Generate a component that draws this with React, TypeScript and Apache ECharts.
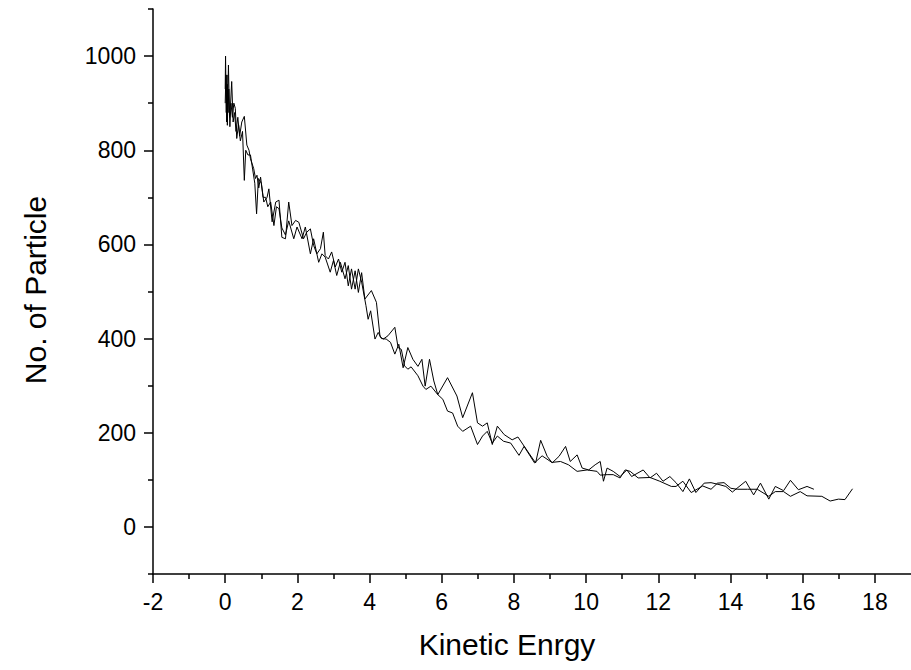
import React, { useEffect, useRef } from "react";
import * as echarts from "echarts";

// Run A (ends near 16.3)
const energyA = [
  0.0, 0.01, 0.03, 0.05, 0.06, 0.09, 0.12, 0.15, 0.18, 0.22, 0.26, 0.3, 0.35, 0.4, 0.46, 0.53, 0.6, 0.66, 0.7, 0.79,
  0.84, 0.88, 0.93, 0.98, 1.07, 1.16, 1.21, 1.3, 1.4, 1.49, 1.57, 1.67, 1.76, 1.85, 1.95, 2.04, 2.17, 2.26, 2.36, 2.45,
  2.54, 2.64, 2.72, 2.77, 2.86, 2.95, 3.05, 3.14, 3.23, 3.32, 3.41, 3.5, 3.6, 3.69, 3.78, 3.9, 3.96, 4.03, 4.15, 4.24,
  4.33, 4.46, 4.58, 4.7, 4.81, 4.93, 5.06, 5.2, 5.34, 5.45, 5.54, 5.66, 5.78, 5.89, 6.16, 6.42, 6.58, 6.85, 6.99, 7.13,
  7.26, 7.4, 7.54, 7.73, 7.95, 8.11, 8.41, 8.6, 8.74, 8.92, 9.06, 9.25, 9.43, 9.56, 9.75, 9.89, 10.07, 10.25, 10.39, 10.48,
  10.58, 10.75, 10.94, 11.13, 11.26, 11.58, 11.77, 11.95, 12.13, 12.32, 12.49, 12.68, 12.86, 13.04, 13.27, 13.46, 13.68, 13.87, 14.05, 14.42,
  14.64, 14.83, 15.06, 15.24, 15.47, 15.66, 15.88, 16.12, 16.31,
];
const countA = [
  930, 1000, 880, 960, 853, 981, 870, 900, 946, 860, 880, 840, 870, 830, 860, 872, 811, 800, 782, 761,
  740, 747, 720, 743, 690, 700, 718, 648, 690, 694, 615, 612, 690, 640, 651, 647, 612, 626, 633, 598,
  580, 591, 626, 576, 569, 584, 552, 569, 541, 562, 512, 548, 505, 548, 520, 470, 441, 459, 399, 413,
  400, 399, 392, 367, 388, 338, 381, 356, 341, 356, 299, 356, 310, 281, 317, 278, 232, 285, 221, 214,
  221, 175, 214, 196, 185, 191, 157, 136, 184, 150, 136, 150, 171, 139, 153, 125, 121, 132, 139, 97,
  125, 118, 107, 121, 107, 121, 104, 114, 97, 107, 94, 75, 102, 73, 93, 94, 90, 86, 74, 97,
  68, 93, 59, 86, 77, 99, 79, 86, 80,
];

// Run B (ends near 17.4)
const energyB = [
  0.0, 0.02, 0.04, 0.06, 0.08, 0.1, 0.13, 0.16, 0.2, 0.24, 0.28, 0.32, 0.37, 0.42, 0.48, 0.53, 0.57, 0.63, 0.7, 0.76,
  0.82, 0.87, 0.92, 1.0, 1.05, 1.12, 1.18, 1.26, 1.35, 1.42, 1.49, 1.57, 1.67, 1.76, 1.9, 1.99, 2.13, 2.22, 2.36, 2.45,
  2.59, 2.68, 2.77, 2.91, 3.0, 3.09, 3.19, 3.32, 3.41, 3.5, 3.6, 3.69, 3.78, 3.87, 4.05, 4.19, 4.29, 4.38, 4.51, 4.7,
  4.79, 4.88, 4.97, 5.06, 5.15, 5.34, 5.48, 5.56, 5.7, 5.89, 6.03, 6.16, 6.3, 6.44, 6.58, 6.8, 6.99, 7.13, 7.26, 7.4,
  7.54, 7.71, 7.91, 8.14, 8.28, 8.57, 8.78, 9.05, 9.29, 9.51, 9.75, 10.03, 10.3, 10.39, 10.58, 10.75, 10.94, 11.08, 11.22, 11.44,
  11.77, 12.04, 12.36, 12.49, 12.68, 12.91, 13.23, 13.46, 13.64, 13.82, 14.01, 14.19, 14.47, 14.74, 15.06, 15.24, 15.47, 15.66, 15.93, 16.12,
  16.53, 16.76, 16.99, 17.17, 17.38,
];
const countB = [
  900, 960, 860, 940, 880, 930, 850, 900, 870, 900, 889, 825, 855, 820, 840, 736, 800, 790, 790, 760,
  730, 665, 740, 730, 700, 700, 680, 690, 640, 680, 676, 635, 620, 650, 612, 637, 612, 637, 580, 612,
  562, 580, 573, 541, 566, 534, 562, 527, 555, 505, 544, 498, 540, 484, 502, 477, 404, 399, 406, 424,
  381, 377, 342, 335, 340, 321, 299, 292, 299, 281, 271, 246, 242, 214, 203, 214, 175, 193, 203, 178,
  193, 182, 178, 152, 171, 136, 151, 137, 139, 132, 118, 121, 118, 110, 111, 111, 104, 121, 118, 104,
  105, 97, 86, 86, 97, 73, 87, 80, 93, 94, 82, 80, 80, 80, 65, 75, 75, 65, 75, 66,
  65, 55, 59, 58, 81,
];

const xMajor = [-2, 0, 2, 4, 6, 8, 10, 12, 14, 16, 18];
const yMajor = [0, 200, 400, 600, 800, 1000];
const yMinor = [-100, 100, 300, 500, 700, 900, 1100];

const FONT = "'Liberation Sans', Arial, sans-serif";

export default function App() {
  const ref = useRef<HTMLDivElement>(null);
  useEffect(() => {
    document.body.style.margin = "0";
    if (!ref.current) return;
    const chart = echarts.init(ref.current, null, { renderer: "svg" });
    const lineA = energyA.map((x, i) => [x, countA[i]]);
    const lineB = energyB.map((x, i) => [x, countB[i]]);
    const plain = (v: number) => String(v);
    const axisCommon = {
      splitLine: { show: false },
      minorSplitLine: { show: false },
    };
    chart.setOption({
      animation: false,
      backgroundColor: "#ffffff",
      grid: { left: 153, top: 9, width: 763, height: 565, containLabel: false },
      xAxis: {
        ...axisCommon,
        type: "value",
        min: -2,
        max: 19,
        interval: 2,
        axisLine: { onZero: false, lineStyle: { color: "#000", width: 1.5 } },
        axisTick: { length: 9, customValues: xMajor, lineStyle: { color: "#000", width: 1.5 } },
        minorTick: { show: true, splitNumber: 2, length: 5, lineStyle: { color: "#000", width: 1.5 } },
        axisLabel: {
          customValues: xMajor,
          formatter: plain,
          color: "#000",
          fontSize: 23,
          fontFamily: FONT,
          margin: 16,
        },
      },
      yAxis: [
        {
          ...axisCommon,
          type: "value",
          min: -100,
          max: 1100,
          interval: 100,
          axisLine: { show: true, onZero: false, lineStyle: { color: "#000", width: 1.5 } },
          axisTick: { show: true, length: 9, customValues: yMajor, lineStyle: { color: "#000", width: 1.5 } },
          axisLabel: {
            customValues: yMajor,
            formatter: plain,
            color: "#000",
            fontSize: 23,
            fontFamily: FONT,
            margin: 17,
          },
        },
        {
          ...axisCommon,
          type: "value",
          position: "left",
          min: -100,
          max: 1100,
          interval: 100,
          axisLine: { show: false, onZero: false },
          axisTick: { show: true, length: 5, customValues: yMinor, lineStyle: { color: "#000", width: 1.5 } },
          axisLabel: { show: false },
        },
      ],
      graphic: [
        {
          type: "text",
          x: 507,
          y: 644,
          style: {
            text: "Kinetic Enrgy",
            fontSize: 30,
            fontFamily: FONT,
            fill: "#000",
            align: "center",
            verticalAlign: "middle",
          },
        },
        {
          type: "text",
          x: 35,
          y: 290,
          rotation: Math.PI / 2,
          style: {
            text: "No. of Particle",
            fontSize: 30,
            fontFamily: FONT,
            fill: "#000",
            align: "center",
            verticalAlign: "middle",
          },
        },
      ],
      series: [
        {
          type: "line",
          data: lineA,
          showSymbol: false,
          symbol: "none",
          lineStyle: { color: "#000", width: 1 },
          yAxisIndex: 0,
        },
        {
          type: "line",
          data: lineB,
          showSymbol: false,
          symbol: "none",
          lineStyle: { color: "#000", width: 1 },
          yAxisIndex: 0,
        },
      ],
    });
    return () => chart.dispose();
  }, []);
  return <div ref={ref} style={{ width: 911, height: 670 }} />;
}
